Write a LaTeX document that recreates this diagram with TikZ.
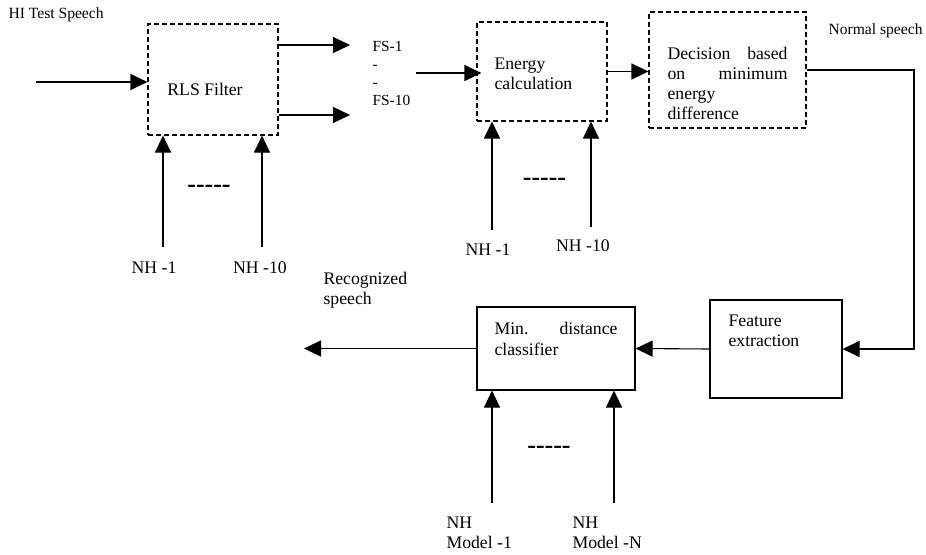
\documentclass[tikz,border=0pt]{standalone}
\usepackage{fontspec}
\setmainfont{Liberation Serif}
\usetikzlibrary{arrows.meta}
\newcommand{\bigtxt}{\fontsize{17.7}{20.5}\selectfont}
\newcommand{\smalltxt}{\fontsize{15.6}{18}\selectfont}
\newcommand{\dashtxt}{\fontsize{26}{26}\selectfont\bfseries}

\begin{document}
\begin{tikzpicture}[x=1pt,y=-1pt,line width=1.1pt,
    flow/.style={-{Triangle[length=17pt,width=16pt]}},
    dbox/.style={draw,dash pattern=on 5pt off 3pt,inner sep=0pt},
    sbox/.style={draw,inner sep=0pt},
    lbl/.style={inner sep=0pt,font=\bigtxt},
    slbl/.style={inner sep=0pt,font=\smalltxt},
    dots/.style={inner sep=0pt,font=\dashtxt}]
        \useasboundingbox (0,0) rectangle (926,554);

        % blocks
        \node[dbox,minimum width=130pt,minimum height=111pt] (rls) at (213,79.5) {};
        \node[dbox,minimum width=130pt,minimum height=99pt] (energy) at (542,71.5) {};
        \node[dbox,minimum width=157pt,minimum height=116pt] (decision) at (727.5,70) {};
        \node[sbox,minimum width=132pt,minimum height=98pt] (feature) at (776,349) {};
        \node[sbox,minimum width=158pt,minimum height=83pt] (classifier) at (556,348.5) {};

        % block texts
        \node[lbl] (rlstext) at (205,89) {RLS Filter};
        \node[lbl,anchor=north west,align=left] (entext) at (494,57) {Energy\\calculation};
        \begin{scope}
            \clip (649,12) rectangle (806,118.5);
            \node[lbl,anchor=north west,text width=120pt,align=left,
                font=\fontsize{17.7}{20.2}\selectfont] (dectext) at (667,46.5)
                {Decision\hfill based\\on\hfill minimum\\energy\\difference};
        \end{scope}
        \node[lbl,anchor=north west,align=left] (feattext) at (728,314) {Feature\\extraction};
        \node[lbl,anchor=north west,text width=123pt,align=left] (clstext) at (494,322)
            {Min.\hfill distance\\classifier};

        % signal labels
        \node[slbl,anchor=west] (hi) at (8,15) {HI Test Speech};
        \node[slbl,anchor=west] (normal) at (828,31) {Normal speech};
        \node[lbl,anchor=west,align=left] (recog) at (323,290) {Recognized\\speech};
        \node[slbl,anchor=west,align=left,font=\fontsize{15.4}{18}\selectfont] (fs) at (372,73)
            {FS-1\\-\\-\\FS-10};

        % reference labels
        \node[lbl] (nha) at (154,268) {NH -1};
        \node[lbl] (nhb) at (260,268) {NH -10};
        \node[lbl] (nhc) at (488,250) {NH -1};
        \node[lbl] (nhd) at (583,246) {NH -10};
        \node[lbl,anchor=west,align=left] (modela) at (446,533) {NH\\Model -1};
        \node[lbl,anchor=west,align=left] (modeln) at (572,533) {NH\\Model -N};
        \node[dots] (dotsa) at (209,189) {-{}-{}-{}-{}-};
        \node[dots] (dotsb) at (544.5,182) {-{}-{}-{}-{}-};
        \node[dots] (dotsc) at (549,450) {-{}-{}-{}-{}-};

        % free ends
        \coordinate (in) at (36,82);
        \coordinate (fsa) at (350,45);
        \coordinate (fsb) at (350,115);
        \coordinate (turn) at (914,349);
        \coordinate (out) at (304,348.5);
        \coordinate (ra) at (163,247);
        \coordinate (rb) at (262,247);
        \coordinate (ea) at (492,230);
        \coordinate (eb) at (591,227);
        \coordinate (ca) at (492,503);
        \coordinate (cb) at (614,503);

        % connectors
        \draw[flow] (in) -- (in -| rls.west);
        \draw[flow] (fsa -| rls.east) -- (fsa);
        \draw[flow] (fsb -| rls.east) -- (fsb);
        \draw[flow] ([xshift=5pt]fs.east) -- ([xshift=5pt]fs.east -| energy.west);
        \draw[flow] (energy.east) -- (energy.east -| decision.west);
        \draw[flow] (decision.east) -| (turn) -- (feature.east);
        \draw[flow] (feature.west) -- (classifier.east);
        \draw[flow] (classifier.west) -- (out);
        \draw[flow] (ra) -- (ra |- rls.south);
        \draw[flow] (rb) -- (rb |- rls.south);
        \draw[flow] (ea) -- (ea |- energy.south);
        \draw[flow] (eb) -- (eb |- energy.south);
        \draw[flow] (ca) -- (ca |- classifier.south);
        \draw[flow] (cb) -- (cb |- classifier.south);
    \end{tikzpicture}
\end{document}
